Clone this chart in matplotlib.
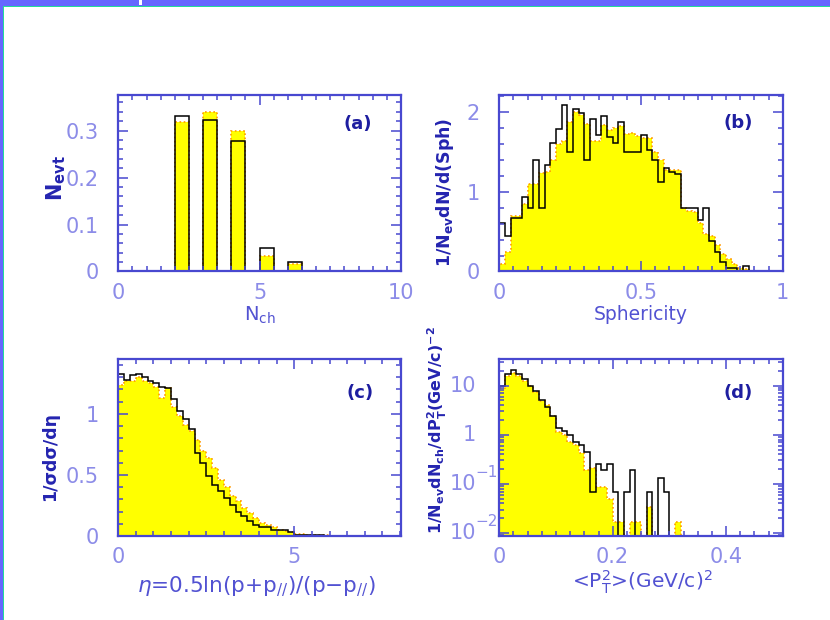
import matplotlib

matplotlib.use("Agg")
import matplotlib.pyplot as plt
import numpy as np
from matplotlib.patches import Rectangle
from matplotlib.ticker import FixedLocator, LogLocator, MultipleLocator, NullFormatter

# (a) charged multiplicity
nch = np.array([2, 3, 4, 5, 6])
nch_data = np.array([0.331, 0.323, 0.278, 0.050, 0.021])
nch_mc = np.array([0.319, 0.339, 0.299, 0.034, 0.016])

# (b) sphericity, 50 bins on [0, 1]
sph_edges = np.linspace(0.0, 1.0, 51)
sph_data = np.array([
    0.61, 0.44, 0.67, 0.67, 0.93, 0.80, 1.40, 0.80, 1.33, 1.61,
    1.78, 2.08, 1.50, 2.04, 1.99, 1.40, 1.91, 1.71, 1.95, 1.69,
    1.61, 1.87, 1.50, 1.50, 1.50, 1.71, 1.52, 1.39, 1.12, 1.30,
    1.25, 1.22, 0.79, 0.79, 0.79, 0.64, 0.80, 0.38, 0.24, 0.12,
    0.05, 0.05, 0.00, 0.07, 0.00, 0.00, 0.00, 0.00, 0.00, 0.00,
])
sph_mc = np.array([
    0.10, 0.25, 0.69, 0.70, 0.85, 1.09, 1.10, 1.23, 1.25, 1.40,
    1.60, 1.64, 1.87, 2.00, 1.96, 1.85, 1.64, 1.64, 1.83, 1.77,
    1.80, 1.82, 1.72, 1.74, 1.70, 1.67, 1.67, 1.50, 1.39, 1.27,
    1.27, 1.27, 0.80, 0.76, 0.74, 0.61, 0.47, 0.45, 0.33, 0.22,
    0.16, 0.10, 0.05, 0.03, 0.01, 0.00, 0.00, 0.00, 0.00, 0.00,
])

# (c) rapidity, 48 bins on [0, 8]
eta_edges = np.linspace(0.0, 8.0, 49)
eta_data = np.array([
    1.33, 1.28, 1.32, 1.33, 1.30, 1.27, 1.25, 1.22, 1.21, 1.12,
    1.02, 0.96, 0.88, 0.68, 0.60, 0.49, 0.42, 0.37, 0.31, 0.25,
    0.20, 0.16, 0.12, 0.09, 0.07, 0.07, 0.05, 0.05, 0.045, 0.035,
    0.010, 0.010, 0.006, 0.005, 0.005, 0.004, 0.004, 0.004, 0.003, 0.003,
    0.003, 0.002, 0.002, 0.002, 0.002, 0.001, 0.001, 0.001,
])
eta_mc = np.array([
    1.24, 1.27, 1.27, 1.30, 1.27, 1.25, 1.22, 1.13, 1.21, 1.06,
    0.98, 0.91, 0.86, 0.79, 0.70, 0.64, 0.56, 0.46, 0.40, 0.33,
    0.29, 0.23, 0.19, 0.15, 0.11, 0.09, 0.07, 0.05, 0.04, 0.03,
    0.020, 0.015, 0.010, 0.008, 0.006, 0.005, 0.004, 0.004, 0.003, 0.003,
    0.002, 0.002, 0.002, 0.001, 0.001, 0.001, 0.001, 0.001,
])

# (d) transverse momentum squared, 50 bins on [0, 0.5]
pt2_edges = np.linspace(0.0, 0.5, 51)
pt2_data = np.array([
    10.0, 17.0, 20.5, 17.0, 13.5, 10.0, 7.8, 5.2, 3.6, 2.45,
    1.37, 1.22, 1.00, 0.71, 0.62, 0.45, 0.068, 0.26, 0.19, 0.26,
    0.068, 0.0, 0.068, 0.19, 0.0, 0.0, 0.068, 0.0, 0.135, 0.068,
    0.0, 0.0, 0.0, 0.0, 0.0, 0.0, 0.0, 0.0, 0.0, 0.0,
    0.0, 0.0, 0.0, 0.0, 0.0, 0.0, 0.0, 0.0, 0.0, 0.0,
])
pt2_mc = np.array([
    8.9, 16.0, 18.0, 16.0, 12.6, 10.0, 7.6, 4.8, 4.1, 2.4,
    1.13, 1.00, 0.71, 0.62, 0.42, 0.19, 0.21, 0.088, 0.088, 0.05,
    0.017, 0.017, 0.0, 0.017, 0.017, 0.0, 0.034, 0.0, 0.0, 0.0,
    0.0, 0.017, 0.0, 0.0, 0.0, 0.0, 0.0, 0.0, 0.0, 0.0,
    0.0, 0.0, 0.0, 0.0, 0.0, 0.0, 0.0, 0.0, 0.0, 0.0,
])
pt2_ticks = [0.01, 0.1, 1, 10]
pt2_tick_base = ["10", "10", "1", "10"]
pt2_tick_exp = ["−2", "−1", "", ""]

FRAME = "#4848d0"
TICKLABEL = "#8c8ce8"
YLABEL = "#2424b0"
XLABEL = "#5252d2"
TAG = "#1e1ea0"
MC_FILL = "#ffff00"
MC_EDGE = "#ff9a00"
TICK_SIZE = 15


def style_axes(ax, xmajor, xminor, ymajor=None, yminor=None):
    for spine in ax.spines.values():
        spine.set_color(FRAME)
        spine.set_linewidth(1.6)
    ax.xaxis.set_major_locator(FixedLocator(xmajor))
    ax.xaxis.set_minor_locator(MultipleLocator(xminor))
    if ymajor is not None:
        ax.yaxis.set_major_locator(FixedLocator(ymajor))
        ax.yaxis.set_minor_locator(MultipleLocator(yminor))
    ax.tick_params(which="both", direction="in", top=True, right=True,
                   color=FRAME, width=1.1, labelcolor=TICKLABEL, labelsize=TICK_SIZE)
    ax.tick_params(which="major", length=7)
    ax.tick_params(which="minor", length=3.5)
    ax.tick_params(axis="y", pad=14)
    ax.tick_params(axis="x", pad=8)


def draw_hist(ax, edges, mc, data, floor=0.0):
    mc_v = np.where(mc > 0, mc, floor)
    data_v = np.where(data > 0, data, floor)
    ax.stairs(mc_v, edges, baseline=floor, fill=True, color=MC_FILL, lw=0)
    ax.stairs(mc_v, edges, baseline=floor, color=MC_EDGE, lw=1.2, ls=(0, (1, 1.5)))
    ax.stairs(data_v, edges, baseline=floor, color="black", lw=1.1)


def panel_tag(ax, text, x, y):
    ax.text(x, y, text, transform=ax.transAxes, ha="center", va="center",
            color=TAG, fontsize=13, fontweight="bold")


def side_label(ax, text, x, y=0.5, size=12.5):
    ax.text(x, y, text, transform=ax.transAxes, rotation=90, ha="center",
            va="center", color=YLABEL, fontsize=size, fontweight="bold")


def bottom_label(ax, text, x, y, size=13):
    ax.text(x, y, text, transform=ax.transAxes, ha="center", va="center",
            color=XLABEL, fontsize=size)


def main():
    fig = plt.figure(figsize=(8.3, 6.2), dpi=100)
    fig.patch.set_facecolor("white")

    # slide frame: blue strips on the top and left with a thin green rule
    W, H = 830.0, 620.0
    fig.add_artist(Rectangle((0, 1 - 6 / H), 1, 6 / H, transform=fig.transFigure,
                             facecolor="#6666ff", edgecolor="none"))
    fig.add_artist(Rectangle((0, 0), 3 / W, 1, transform=fig.transFigure,
                             facecolor="#6666ff", edgecolor="none"))
    fig.add_artist(Rectangle((3 / W, 1 - 7 / H), 1, 1.2 / H, transform=fig.transFigure,
                             facecolor="#22dd99", edgecolor="none"))
    fig.add_artist(Rectangle((3 / W, 0), 1.2 / W, 1 - 6 / H, transform=fig.transFigure,
                             facecolor="#22dd99", edgecolor="none"))
    fig.add_artist(Rectangle((139 / W, 1 - 5 / H), 3 / W, 5 / H, transform=fig.transFigure,
                             facecolor="white", edgecolor="none"))

    ax_a = fig.add_axes([0.1425, 0.5621, 0.3406, 0.2847])
    ax_b = fig.add_axes([0.6016, 0.5621, 0.3414, 0.2847])
    ax_c = fig.add_axes([0.1425, 0.1355, 0.3406, 0.2855])
    ax_d = fig.add_axes([0.6016, 0.1355, 0.3414, 0.2855])

    # (a)
    ax_a.bar(nch, nch_mc, width=0.5, align="edge", color=MC_FILL, edgecolor=MC_EDGE,
             linewidth=1.2, linestyle=(0, (1, 1.5)))
    ax_a.bar(nch, nch_data, width=0.5, align="edge", fill=False, edgecolor="black",
             linewidth=1.1)
    ax_a.set_xlim(0, 10)
    ax_a.set_ylim(0, 0.376)
    style_axes(ax_a, [0, 5, 10], 0.5, [0, 0.1, 0.2, 0.3], 0.02)
    ax_a.set_xticklabels(["0", "5", "10"])
    ax_a.set_yticklabels(["0", "0.1", "0.2", "0.3"])
    panel_tag(ax_a, "(a)", 0.848, 0.836)
    side_label(ax_a, r"N$_{\mathbf{evt}}$", -0.218, 0.53, size=15)
    bottom_label(ax_a, r"N$_{\mathrm{ch}}$", 0.50, -0.25, size=14)

    # (b)
    draw_hist(ax_b, sph_edges, sph_mc, sph_data)
    ax_b.set_xlim(0, 1)
    ax_b.set_ylim(0, 2.21)
    style_axes(ax_b, [0, 0.5, 1], 0.05, [0, 1, 2], 0.2)
    ax_b.set_xticklabels(["0", "0.5", "1"])
    ax_b.set_yticklabels(["0", "1", "2"])
    panel_tag(ax_b, "(b)", 0.842, 0.84)
    side_label(ax_b, r"1/N$_{\mathbf{ev}}$dN/d(Sph)", -0.19, 0.45)
    bottom_label(ax_b, "Sphericity", 0.50, -0.245, size=13.5)

    # (c)
    draw_hist(ax_c, eta_edges, eta_mc, eta_data)
    ax_c.set_xlim(0, 8.03)
    ax_c.set_ylim(0, 1.45)
    style_axes(ax_c, [0, 5], 0.5, [0, 0.5, 1], 0.1)
    ax_c.set_xticklabels(["0", "5"])
    ax_c.set_yticklabels(["0", "0.5", "1"])
    panel_tag(ax_c, "(c)", 0.856, 0.81)
    side_label(ax_c, "1/σdσ/dη", -0.243, 0.45)
    bottom_label(ax_c, r"$\eta$=0.5ln(p+p$_{//}$)/(p$-$p$_{//}$)", 0.49, -0.29, size=15.5)

    # (d)
    floor = 1e-4
    draw_hist(ax_d, pt2_edges, pt2_mc, pt2_data, floor=floor)
    ax_d.set_yscale("log")
    ax_d.set_xlim(0, 0.5)
    ax_d.set_ylim(0.0087, 35)
    style_axes(ax_d, [0, 0.2, 0.4], 0.025)
    ax_d.yaxis.set_major_locator(FixedLocator(pt2_ticks))
    ax_d.yaxis.set_minor_locator(LogLocator(base=10, subs=np.arange(2, 10)))
    ax_d.yaxis.set_minor_formatter(NullFormatter())
    ax_d.set_xticklabels(["0", "0.2", "0.4"])
    ax_d.set_yticklabels([""] * len(pt2_ticks))
    # decade labels: mantissa right-aligned, exponent hanging to its right
    for val, base, exp in zip(pt2_ticks, pt2_tick_base, pt2_tick_exp):
        ax_d.annotate(base, xy=(0, val), xycoords=("axes fraction", "data"),
                      xytext=(-17, 0), textcoords="offset points", ha="right",
                      va="center", color=TICKLABEL, fontsize=TICK_SIZE)
        if exp:
            ax_d.annotate(exp, xy=(0, val), xycoords=("axes fraction", "data"),
                          xytext=(-17, 8), textcoords="offset points", ha="left",
                          va="center", color=TICKLABEL, fontsize=11)
    panel_tag(ax_d, "(d)", 0.842, 0.81)
    side_label(ax_d,
               r"1/N$_{\mathbf{ev}}$dN$_{\mathbf{ch}}$/dP$_{\mathbf{T}}^{\mathbf{2}}$(GeV/c)$^{\mathbf{-2}}$",
               -0.22, 0.6, size=11.5)
    bottom_label(ax_d, r"<P$_{\mathrm{T}}^{2}$>(GeV/c)$^{2}$", 0.503, -0.262, size=14.5)

    fig.savefig("out.png", dpi=100, facecolor="white")
    plt.close(fig)


if __name__ == "__main__":
    main()
